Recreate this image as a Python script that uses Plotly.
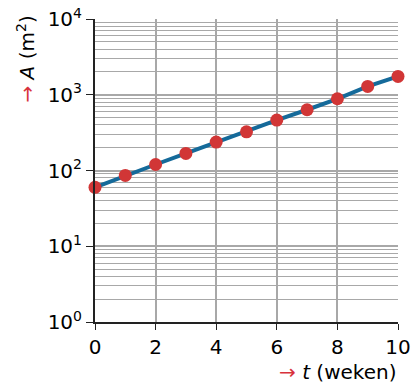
import plotly.graph_objects as go

t_weeks = [0, 1, 2, 3, 4, 5, 6, 7, 8, 9, 10]
area_m2 = [60, 86, 120, 168, 237, 324, 463, 634, 885, 1288, 1745]
y_tickvals = [1, 10, 100, 1000, 10000]
y_ticktext = ["10<sup>0</sup>", "10<sup>1</sup>", "10<sup>2</sup>", "10<sup>3</sup>", "10<sup>4</sup>"]
x_tickvals = [0, 2, 4, 6, 8, 10]

RED = "#d8323c"
MARK = "#d13636"
BLUE = "#156a9a"
GRID = "#a8a8a8"
FONT = "DejaVu Sans"
FS = 20

fig = go.Figure()
fig.add_trace(go.Scatter(
    x=t_weeks, y=area_m2, mode="lines+markers",
    line=dict(color=BLUE, width=4),
    marker=dict(color=MARK, size=13),
    cliponaxis=False, showlegend=False,
))

fig.update_layout(
    width=413, height=383,
    margin=dict(l=95, r=15, t=19, b=61),
    plot_bgcolor="white", paper_bgcolor="white",
    font=dict(family=FONT, size=FS, color="black"),
    xaxis=dict(
        range=[0, 10], tickvals=x_tickvals, showgrid=True, gridcolor=GRID, gridwidth=1.5,
        showline=True, linecolor="#222", linewidth=2, ticks="outside", ticklen=6,
        tickcolor="#222", zeroline=False, tickfont=dict(size=FS), automargin=False,
        ticklabeloverflow="allow",
    ),
    yaxis=dict(
        type="log", range=[0, 4], tickvals=y_tickvals, ticktext=y_ticktext,
        showgrid=True, gridcolor=GRID, gridwidth=1.5,
        showline=True, linecolor="#222", linewidth=2, ticks="outside", ticklen=7,
        tickcolor="#222", zeroline=False, tickfont=dict(size=FS), automargin=False,
        ticklabeloverflow="allow",
        minor=dict(dtick="D1", showgrid=True, gridcolor=GRID, gridwidth=1, ticks=""),
    ),
    annotations=[
        dict(text=f"<span style='color:{RED}'>→</span> <i>t</i> (weken)",
             xref="paper", yref="paper", x=1.0, y=0, xanchor="right", yanchor="top",
             yshift=-36, showarrow=False, font=dict(size=FS, family=FONT)),
        dict(text=f"<span style='color:{RED}'>→</span> <i>A</i> (m<sup>2</sup>)",
             xref="paper", yref="paper", x=0, y=1.0, xanchor="center", yanchor="top",
             xshift=-70, yshift=5, textangle=-90, showarrow=False,
             font=dict(size=FS, family=FONT)),
    ],
)

fig.write_html(
    "out.html",
    config={"displayModeBar": False},
    post_script="document.body.style.margin='0';document.body.style.overflow='hidden';",
)
